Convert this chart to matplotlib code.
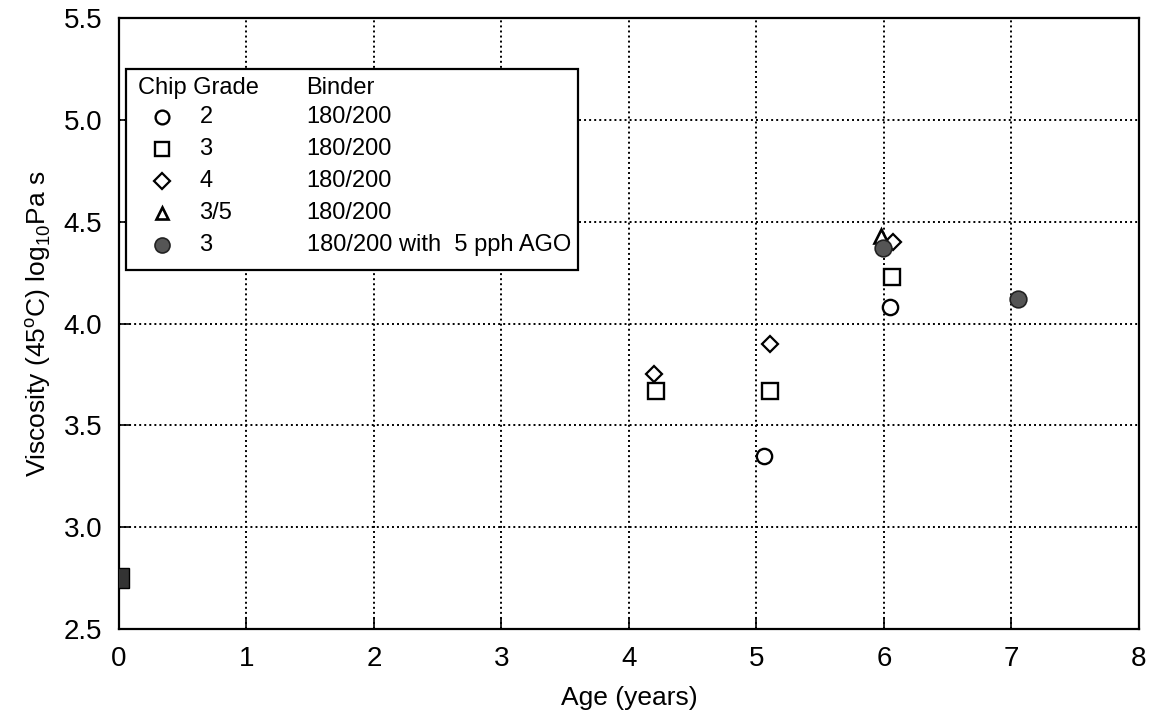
import matplotlib
matplotlib.use("Agg")
import matplotlib.pyplot as plt
from matplotlib.patches import Rectangle

plt.rcParams["font.family"] = ["Liberation Sans", "DejaVu Sans"]

# age (years) vs viscosity (log10 Pa s) for each chip grade
grade2_age = [5.06, 6.05]
grade2_visc = [3.35, 4.08]
grade3_age = [4.21, 5.11, 6.06]
grade3_visc = [3.67, 3.67, 4.23]
grade4_age = [4.20, 5.11, 6.07]
grade4_visc = [3.75, 3.90, 4.40]
grade35_age = [5.98]
grade35_visc = [4.43]
grade3_ago_age = [5.99, 7.05]
grade3_ago_visc = [4.37, 4.12]
unaged_age = [0.0]
unaged_visc = [2.75]

legend_grades = ["2", "3", "4", "3/5", "3"]
legend_binders = ["180/200", "180/200", "180/200", "180/200", "180/200 with  5 pph AGO"]

x_ticks = [0, 1, 2, 3, 4, 5, 6, 7, 8]
y_ticks = [2.5, 3.0, 3.5, 4.0, 4.5, 5.0, 5.5]

fig = plt.figure(figsize=(11.55, 7.23), dpi=100)
ax = fig.add_axes([0.103, 0.130, 0.883, 0.845])

styles = [
    dict(marker="o", ms=11, mfc="white", mec="black", mew=1.7),
    dict(marker="s", ms=11, mfc="white", mec="black", mew=1.7),
    dict(marker="D", ms=8.5, mfc="white", mec="black", mew=1.6),
    dict(marker="^", ms=10, mfc="white", mec="black", mew=1.9),
    dict(marker="o", ms=12, mfc="#555555", mec="#222222", mew=1.2),
]
series = [
    (grade2_age, grade2_visc),
    (grade3_age, grade3_visc),
    (grade4_age, grade4_visc),
    (grade35_age, grade35_visc),
    (grade3_ago_age, grade3_ago_visc),
]
for (xs, ys), st in zip(series, styles):
    ax.plot(xs, ys, ls="none", zorder=3, **st)

ax.plot(unaged_age, unaged_visc, ls="none", marker="s", ms=14,
        mfc="#333333", mec="black", zorder=3)

ax.set_xlim(0, 8)
ax.set_ylim(2.5, 5.5)
ax.set_xticks(x_ticks)
ax.set_yticks(y_ticks)
ax.set_yticklabels([f"{v:.1f}" for v in y_ticks])
ax.tick_params(direction="in", length=8, width=1.2, labelsize=20, pad=12)
ax.grid(True, color="black", linestyle=(0, (1, 1.6)), linewidth=1.4)
ax.set_axisbelow(True)
for sp in ax.spines.values():
    sp.set_linewidth(1.6)

ax.set_xlabel("Age (years)", fontsize=19, labelpad=10)
ax.set_ylabel("Viscosity (45$^{\\mathregular{o}}$C) log$_{\\mathregular{10}}$Pa s",
              fontsize=19, labelpad=8)

# hand-built legend box with header and two text columns
box = Rectangle((0.007, 0.588), 0.443, 0.329, transform=ax.transAxes,
                facecolor="white", edgecolor="black", linewidth=1.6, zorder=4)
ax.add_patch(box)
ax.text(0.019, 0.885, "Chip Grade", transform=ax.transAxes, fontsize=17,
        va="center", ha="left", zorder=5)
ax.text(0.184, 0.885, "Binder", transform=ax.transAxes, fontsize=17,
        va="center", ha="left", zorder=5)
row_y = [0.838, 0.786, 0.733, 0.681, 0.629]
for y, g, b, st in zip(row_y, legend_grades, legend_binders, styles):
    st_leg = dict(st)
    st_leg["ms"] = st["ms"] * 0.9
    ax.plot([0.042], [y], ls="none", transform=ax.transAxes, zorder=5,
            clip_on=False, **st_leg)
    ax.text(0.079, y, g, transform=ax.transAxes, fontsize=17,
            va="center", ha="left", zorder=5)
    ax.text(0.184, y, b, transform=ax.transAxes, fontsize=17,
            va="center", ha="left", zorder=5)

fig.savefig("out.png", dpi=100)
